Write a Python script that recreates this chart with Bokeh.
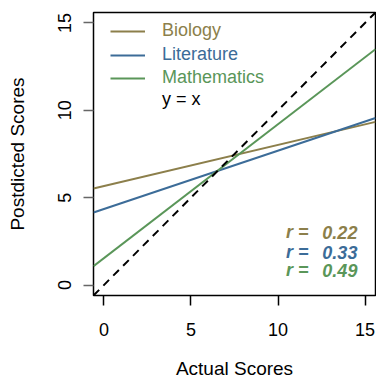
from bokeh.plotting import figure
from bokeh.models import Range1d, FixedTicker, Legend, LegendItem, ColumnDataSource
from bokeh.core.properties import value
from bokeh.embed import file_html
from bokeh.resources import INLINE

# ---- data ----
subjects = ["Biology", "Literature", "Mathematics"]
colors = ["#8C7F4B", "#3C6C98", "#5A9659"]
x_ends = [-0.6, 15.6]
bio_y = [5.53, 9.34]
lit_y = [4.15, 9.56]
math_y = [1.08, 13.50]
diag_y = [-0.6, 15.6]
r_values = ["0.22", "0.33", "0.49"]
ticks = [0, 5, 10, 15]

FONT = "Liberation Sans"

p = figure(width=376, height=381, output_backend="svg", toolbar_location=None,
           x_range=Range1d(-0.6, 15.6), y_range=Range1d(-0.6, 15.6),
           min_border_left=93, min_border_right=1, min_border_top=12, min_border_bottom=85)
p.xgrid.visible = False
p.ygrid.visible = False
p.outline_line_color = "black"
p.outline_line_width = 1.5
p.background_fill_color = "white"
p.border_fill_color = "white"

# axes
for ax in (p.xaxis[0], p.yaxis[0]):
    ax.ticker = FixedTicker(ticks=ticks)
    ax.axis_line_color = None
    ax.major_tick_in = 0
    ax.major_tick_out = 10
    ax.minor_tick_line_color = None
    ax.major_label_text_font = FONT
    ax.major_label_text_font_size = "18px"
    ax.major_label_text_color = "black"
    ax.axis_label_text_font = FONT
    ax.axis_label_text_font_size = "19px"
    ax.axis_label_text_font_style = "normal"
    ax.axis_label_text_color = "black"
    ax.major_tick_line_width = 1.5

p.xaxis.axis_label = "Actual Scores"
p.xaxis.major_tick_line_color = "black"
p.xaxis.major_label_standoff = 17
p.xaxis.axis_label_standoff = 19
p.yaxis.axis_label = "Postdicted Scores"
p.yaxis.major_tick_line_color = "#666666"
p.yaxis.major_label_orientation = "vertical"
p.yaxis.major_label_standoff = 12
p.yaxis.axis_label_standoff = 28

# lines
series = [bio_y, lit_y, math_y]
renderers = []
for ys, c in zip(series, colors):
    renderers.append(p.line(x_ends, ys, line_color=c, line_width=2))
p.line(x_ends, diag_y, line_color="black", line_width=2, line_dash="8 6")
dummy_diag = p.line(x=[], y=[], line_color="black", line_width=1.5, line_dash="6 4")

# legends: one per item so each label has its own colour
legend_items = list(zip(subjects + ["y = x"], renderers + [dummy_diag], colors + ["black"]))
bottoms = [254, 230, 207, 185]
for (lab, r, c), b in zip(legend_items, bottoms):
    lg = Legend(items=[LegendItem(label=lab, renderers=[r])], location=(17, b),
                label_text_color=c, label_text_font=FONT, label_text_font_size="18px",
                glyph_width=35, glyph_height=20, label_height=20, label_standoff=17,
                padding=0, margin=0, spacing=0, border_line_color=None,
                background_fill_alpha=0)
    p.add_layout(lg)

# r annotations
src = ColumnDataSource(dict(xl=[10.46] * 3, xr=[14.56] * 3, y=[3.03, 1.89, 0.85],
                            lab=["r ="] * 3, val=r_values, col=colors))
p.text(x="xl", y="y", text="lab", text_color="col", source=src, text_font=value(FONT),
       text_font_size="18px", text_font_style="bold italic", text_align="left", text_baseline="middle")
p.text(x="xr", y="y", text="val", text_color="col", source=src, text_font=value(FONT),
       text_font_size="18px", text_font_style="bold italic", text_align="right", text_baseline="middle")

open("out.html", "w").write(file_html(p, INLINE))
